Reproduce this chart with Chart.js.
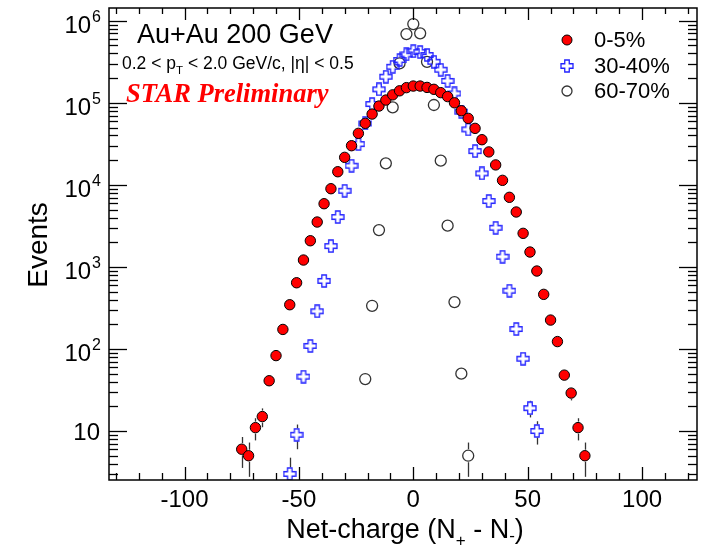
<!DOCTYPE html>
<html>
<head>
<meta charset="utf-8">
<script src="https://cdn.jsdelivr.net/npm/chart.js@4"></script>
<style>
  body { margin: 0; background: #fff; }
  canvas { display: block; }
</style>
</head>
<body>
<canvas id="netChargeChart" width="704" height="547"></canvas>
<script>
// net-charge bins and event counts
const binsCentral = [-75, -72, -69, -66, -63, -60, -57, -54, -51, -48, -45, -42, -39, -36, -33, -30, -27, -24, -21, -18, -15, -12, -9, -6, -3,
  0, 3, 6, 9, 12, 15, 18, 21, 24, 27, 30, 33, 36, 39, 42, 45, 48, 51, 54, 57, 60, 63, 66, 69, 72, 75];
const eventsCentral = [6, 5, 11, 15, 41, 83, 173, 346, 641, 1213, 2084, 3524, 5890, 8975, 14450, 21640, 30000, 42450, 56200, 72900, 91300, 108000, 125000, 140000, 153000,
  160000, 160000, 154000, 146000, 133000, 119000, 100000, 80000, 64600, 48800, 35500, 25200, 17500, 11350, 7050, 4670, 2565, 1518, 891, 463, 225, 123, 48, 29, 11, 5];

const binsMid = [-54, -51, -48, -45, -42, -39, -36, -33, -30, -27, -24, -21, -18, -15, -12, -9, -6, -3,
  0, 3, 6, 9, 12, 15, 18, 21, 24, 27, 30, 33, 36, 39, 42, 45, 48, 51, 54];
const eventsMid = [3, 9, 46, 109, 288, 675, 1795, 4055, 8475, 17100, 31400, 56000, 96600, 146000, 208000, 275000, 332000, 389000,
  425000, 415000, 382000, 316000, 253000, 185000, 130000, 77800, 47400, 25800, 13800, 6350, 3000, 1330, 513, 175, 76, 19, 10];

const binsPeripheral = [-21, -18, -15, -12, -9, -6, -3, 0, 3, 6, 9, 12, 15, 18, 21, 24];
const eventsPeripheral = [43, 336, 2810, 18300, 88100, 303000, 688000, 912000, 702000, 316000, 94000, 19700, 3180, 373, 50, 5];

const centralityLabels = ['0-5%', '30-40%', '60-70%'];
const xMajorTicks = [-100, -50, 0, 50, 100];
const xMinorTicks = [-130, -120, -110, -90, -80, -70, -60, -40, -30, -20, -10, 10, 20, 30, 40, 60, 70, 80, 90, 110, 120];
const yDecades = [1, 2, 3, 4, 5, 6];

const FONT = '"Liberation Sans", Arial, sans-serif';

function toPoints(xs, ys) {
  return xs.map((x, i) => ({ x: x, y: ys[i] }));
}

function hollowCross(size, arm, color) {
  const c = document.createElement('canvas');
  c.width = c.height = size + 2;
  const g = c.getContext('2d');
  const m = (size + 2) / 2, h = size / 2, a = arm / 2;
  g.beginPath();
  g.moveTo(m - a, m - h); g.lineTo(m + a, m - h); g.lineTo(m + a, m - a);
  g.lineTo(m + h, m - a); g.lineTo(m + h, m + a); g.lineTo(m + a, m + a);
  g.lineTo(m + a, m + h); g.lineTo(m - a, m + h); g.lineTo(m - a, m + a);
  g.lineTo(m - h, m + a); g.lineTo(m - h, m - a); g.lineTo(m - a, m - a);
  g.closePath();
  g.strokeStyle = color;
  g.lineWidth = 1.3;
  g.stroke();
  return c;
}
const crossImg = hollowCross(12, 4.5, '#2222ff');
const markerHalf = [6, 6.5, 6.5];

// poisson error bars, only the part outside the marker (ROOT style)
const errorBars = {
  id: 'errorBars',
  beforeDatasetsDraw(chart) {
    const ctx = chart.ctx, area = chart.chartArea, y = chart.scales.y;
    ctx.save();
    ctx.beginPath();
    ctx.rect(area.left, area.top, area.right - area.left, area.bottom - area.top);
    ctx.clip();
    ctx.strokeStyle = '#333';
    ctx.lineWidth = 1.3;
    chart.data.datasets.forEach((ds, i) => {
      const meta = chart.getDatasetMeta(i);
      const r = markerHalf[i];
      meta.data.forEach((pt, j) => {
        const v = ds.data[j].y, err = Math.sqrt(v);
        const lo = v - err > 0 ? y.getPixelForValue(v - err) : area.bottom + 5;
        const hi = y.getPixelForValue(v + err);
        const px = Math.round(pt.x) + 0.5;
        if (pt.y - hi > r) {
          ctx.beginPath(); ctx.moveTo(px, hi); ctx.lineTo(px, pt.y - r); ctx.stroke();
        }
        if (lo - pt.y > r) {
          ctx.beginPath(); ctx.moveTo(px, pt.y + r); ctx.lineTo(px, lo); ctx.stroke();
        }
      });
    });
    ctx.restore();
  }
};

// ROOT-style frame: ticks pointing inwards on all four sides
const frameAxes = {
  id: 'frameAxes',
  afterDatasetsDraw(chart) {
    const ctx = chart.ctx, a = chart.chartArea, xs = chart.scales.x, ys = chart.scales.y;
    ctx.save();
    ctx.strokeStyle = '#000';
    ctx.lineWidth = 1.3;
    const line = (x1, y1, x2, y2) => { ctx.beginPath(); ctx.moveTo(x1, y1); ctx.lineTo(x2, y2); ctx.stroke(); };

    xMajorTicks.forEach(v => {
      const px = Math.round(xs.getPixelForValue(v)) + 0.5;
      line(px, a.bottom, px, a.bottom - 13);
      line(px, a.top, px, a.top + 12);
    });
    xMinorTicks.forEach(v => {
      const px = Math.round(xs.getPixelForValue(v)) + 0.5;
      line(px, a.bottom, px, a.bottom - 7);
      line(px, a.top, px, a.top + 6);
    });

    for (let e = 0; e <= 6; e++) {
      for (let k = 1; k <= 9; k++) {
        const v = k * Math.pow(10, e);
        if (v < ys.min || v > ys.max) continue;
        const py = Math.round(ys.getPixelForValue(v)) + 0.5;
        const len = k === 1 ? 18 : 9;
        line(a.left, py, a.left + len, py);
        line(a.right, py, a.right - len, py);
      }
    }

    ctx.lineWidth = 1.5;
    ctx.strokeRect(a.left, a.top, a.right - a.left, a.bottom - a.top);
    ctx.restore();
  },
  afterDraw(chart) {
    const ctx = chart.ctx, xs = chart.scales.x, ys = chart.scales.y;
    ctx.save();
    ctx.fillStyle = '#000';

    // x tick labels
    ctx.font = '24px ' + FONT;
    ctx.textAlign = 'center';
    ctx.textBaseline = 'alphabetic';
    xMajorTicks.forEach(v => {
      ctx.fillText(String(v), xs.getPixelForValue(v), 507);
    });

    // y tick labels 10^n
    yDecades.forEach(e => {
      const py = ys.getPixelForValue(Math.pow(10, e));
      ctx.textAlign = 'right';
      if (e === 1) {
        ctx.font = '24px ' + FONT;
        ctx.fillText('10', 100, py + 9);
      } else {
        ctx.font = '16px ' + FONT;
        const ew = ctx.measureText(String(e)).width;
        ctx.fillText(String(e), 101, py + 1);
        ctx.font = '24px ' + FONT;
        ctx.fillText('10', 100 - ew, py + 12);
      }
    });

    // y title
    ctx.save();
    ctx.translate(47, 245);
    ctx.rotate(-Math.PI / 2);
    ctx.font = '28px ' + FONT;
    ctx.textAlign = 'center';
    ctx.fillText('Events', 0, 0);
    ctx.restore();

    // x title with subscripts
    const big = '27px ' + FONT, small = '17px ' + FONT;
    const parts = [
      { t: 'Net-charge (N', f: big, dy: 0 },
      { t: '+', f: small, dy: 8 },
      { t: ' - N', f: big, dy: 0 },
      { t: '-', f: small, dy: 3 },
      { t: ')', f: big, dy: 0 }
    ];
    ctx.textAlign = 'left';
    let total = 0;
    parts.forEach(p => { ctx.font = p.f; total += ctx.measureText(p.t).width; });
    let tx = 405 - total / 2;
    parts.forEach(p => {
      ctx.font = p.f;
      ctx.fillText(p.t, tx, 538 + p.dy);
      tx += ctx.measureText(p.t).width;
    });

    // annotations
    ctx.font = '27px ' + FONT;
    ctx.fillText('Au+Au 200 GeV', 137, 43);

    let ax = 122;
    const seg = (t, f, dy) => { ctx.font = f; ctx.fillText(t, ax, 69 + dy); ax += ctx.measureText(t).width; };
    seg('0.2 < p', '17.5px ' + FONT, 0);
    seg('T', '11.5px ' + FONT, 5);
    seg(' < 2.0 GeV/c, |\u03b7| < 0.5', '17.5px ' + FONT, 0);

    ctx.fillStyle = '#ff0000';
    ctx.font = 'italic bold 26.5px "Liberation Serif", "Times New Roman", serif';
    ctx.fillText('STAR Preliminary', 126, 102);

    // legend
    const lx = 567, ly = [40, 66, 91];
    ctx.fillStyle = '#ff0000';
    ctx.strokeStyle = '#000';
    ctx.lineWidth = 1;
    ctx.beginPath(); ctx.arc(lx, ly[0], 5, 0, Math.PI * 2); ctx.fill(); ctx.stroke();
    ctx.drawImage(crossImg, lx - crossImg.width / 2, ly[1] - crossImg.height / 2);
    ctx.strokeStyle = '#333';
    ctx.lineWidth = 1.3;
    ctx.beginPath(); ctx.arc(lx, ly[2], 5, 0, Math.PI * 2); ctx.stroke();
    ctx.fillStyle = '#000';
    ctx.font = '22px ' + FONT;
    ctx.textBaseline = 'middle';
    centralityLabels.forEach((t, i) => ctx.fillText(t, 594, ly[i] + 1));
    ctx.restore();
  }
};

const ctx = document.getElementById('netChargeChart').getContext('2d');
new Chart(ctx, {
  type: 'scatter',
  data: {
    datasets: [{
      label: centralityLabels[0],
      data: toPoints(binsCentral, eventsCentral),
      pointStyle: 'circle',
      pointRadius: 5.2,
      backgroundColor: '#ff0000',
      borderColor: '#000',
      borderWidth: 1
    }, {
      label: centralityLabels[1],
      data: toPoints(binsMid, eventsMid),
      pointStyle: crossImg,
      pointRadius: 6
    }, {
      label: centralityLabels[2],
      data: toPoints(binsPeripheral, eventsPeripheral),
      pointStyle: 'circle',
      pointRadius: 5.5,
      backgroundColor: 'rgba(0,0,0,0)',
      borderColor: '#333',
      borderWidth: 1.3
    }]
  },
  options: {
    responsive: false,
    animation: false,
    layout: { padding: { left: 109, right: 5, top: 8, bottom: 67 } },
    scales: {
      x: { type: 'linear', min: -133, max: 124, display: false },
      y: { type: 'logarithmic', min: 2.53, max: 1.43e6, display: false }
    },
    plugins: {
      legend: { display: false },
      tooltip: { enabled: false }
    }
  },
  plugins: [errorBars, frameAxes]
});
</script>
</body>
</html>
